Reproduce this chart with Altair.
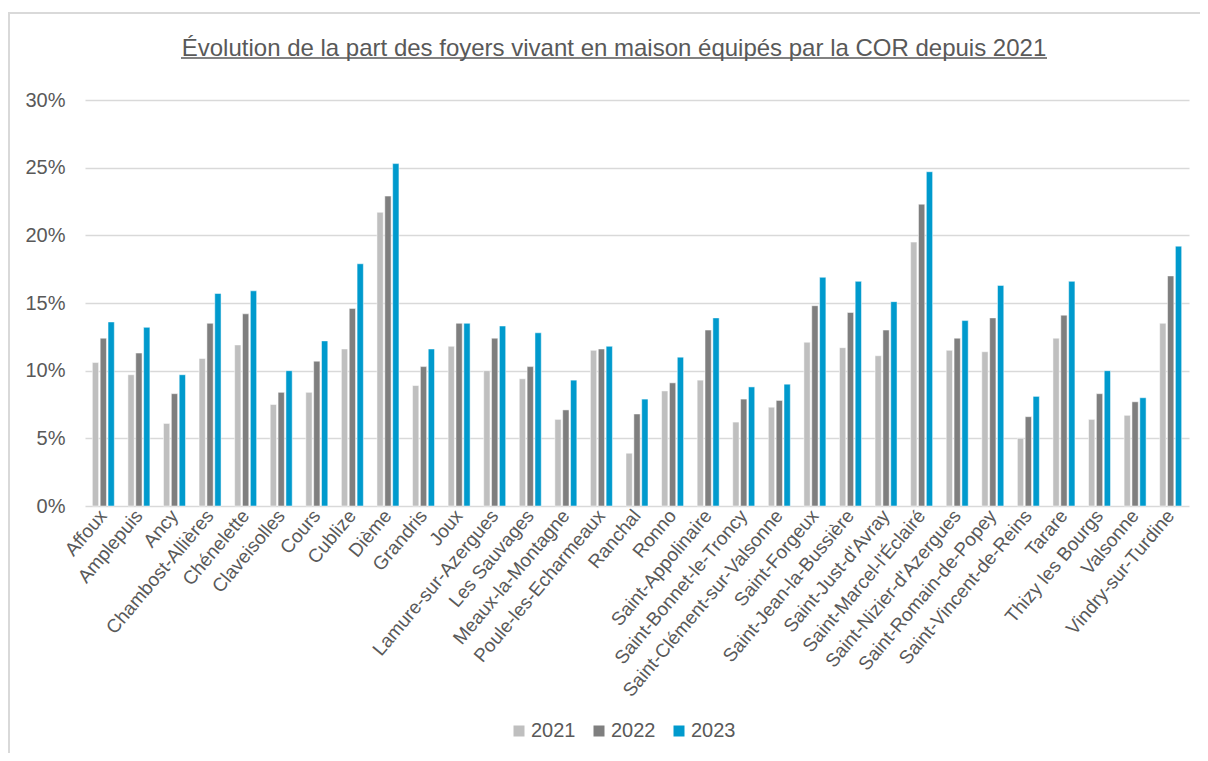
import altair as alt
import pandas as pd

communes = [
    "Affoux", "Amplepuis", "Ancy", "Chambost-Allières", "Chénelette", "Claveisolles",
    "Cours", "Cublize", "Dième", "Grandris", "Joux", "Lamure-sur-Azergues",
    "Les Sauvages", "Meaux-la-Montagne", "Poule-les-Echarmeaux", "Ranchal", "Ronno",
    "Saint-Appolinaire", "Saint-Bonnet-le-Troncy", "Saint-Clément-sur-Valsonne",
    "Saint-Forgeux", "Saint-Jean-la-Bussière", "Saint-Just-d'Avray",
    "Saint-Marcel-l'Éclairé", "Saint-Nizier-d'Azergues", "Saint-Romain-de-Popey",
    "Saint-Vincent-de-Reins", "Tarare", "Thizy les Bourgs", "Valsonne", "Vindry-sur-Turdine",
]
v2021 = [10.6, 9.7, 6.1, 10.9, 11.9, 7.5, 8.4, 11.6, 21.7, 8.9, 11.8, 10.0, 9.4, 6.4,
         11.5, 3.9, 8.5, 9.3, 6.2, 7.3, 12.1, 11.7, 11.1, 19.5, 11.5, 11.4, 5.0, 12.4,
         6.4, 6.7, 13.5]
v2022 = [12.4, 11.3, 8.3, 13.5, 14.2, 8.4, 10.7, 14.6, 22.9, 10.3, 13.5, 12.4, 10.3, 7.1,
         11.6, 6.8, 9.1, 13.0, 7.9, 7.8, 14.8, 14.3, 13.0, 22.3, 12.4, 13.9, 6.6, 14.1,
         8.3, 7.7, 17.0]
v2023 = [13.6, 13.2, 9.7, 15.7, 15.9, 10.0, 12.2, 17.9, 25.3, 11.6, 13.5, 13.3, 12.8, 9.3,
         11.8, 7.9, 11.0, 13.9, 8.8, 9.0, 16.9, 16.6, 15.1, 24.7, 13.7, 16.3, 8.1, 16.6,
         10.0, 8.0, 19.2]
years = ["2021", "2022", "2023"]
colors = ["#BFBFBF", "#7F7F7F", "#009ACD"]
y_ticks = [0, 0.05, 0.10, 0.15, 0.20, 0.25, 0.30]
title_text = "Évolution de la part des foyers vivant en maison équipés par la COR depuis 2021"

rows = []
for i, c in enumerate(communes):
    for yr, vals in zip(years, [v2021, v2022, v2023]):
        rows.append({"commune": c, "annee": yr, "part": vals[i] / 100})
df = pd.DataFrame(rows)

W, H = 1104, 406
FONT = "Liberation Sans"
GREY = "#595959"

bars = alt.Chart(df).mark_bar(stroke="white", strokeWidth=0.5).encode(
    x=alt.X(
        "commune:N", sort=communes, title=None,
        scale=alt.Scale(paddingInner=0.382, paddingOuter=0.206),
        axis=alt.Axis(labelAngle=-50, labelFontSize=19, labelColor=GREY, labelFont=FONT,
                      ticks=False, domain=False, labelPadding=6, labelOverlap=False,
                      labelLimit=0),
    ),
    xOffset=alt.XOffset("annee:N", sort=years,
                        scale=alt.Scale(paddingInner=0.2, paddingOuter=0)),
    y=alt.Y(
        "part:Q", title=None, scale=alt.Scale(domain=[0, 0.3], nice=False),
        axis=alt.Axis(format=".0%", values=y_ticks, labelFontSize=20, labelColor=GREY,
                      labelFont=FONT, ticks=False, domain=False, labelPadding=20,
                      gridColor="#D9D9D9", gridWidth=1.5),
    ),
    color=alt.Color(
        "annee:N", scale=alt.Scale(domain=years, range=colors),
        legend=alt.Legend(title=None, orient="none", legendX=424, legendY=621,
                          direction="horizontal", columns=3, symbolType="square",
                          symbolSize=121, symbolStrokeWidth=0, labelFontSize=20,
                          labelColor=GREY, labelFont=FONT, columnPadding=13,
                          labelOffset=2, padding=0),
    ),
)

title_df = pd.DataFrame({"t": [title_text]})
title = alt.Chart(title_df).mark_text(
    font=FONT, fontSize=24, color=GREY, align="center", baseline="alphabetic"
).encode(text="t:N", x=alt.value(529), y=alt.value(-44))

underline = alt.Chart(title_df).mark_rule(color=GREY, strokeWidth=1.3).encode(
    x=alt.value(96), x2=alt.value(962), y=alt.value(-42)
)

border_left = alt.Chart(title_df).mark_rule(color="#D9D9D9", strokeWidth=2).encode(
    x=alt.value(-76), y=alt.value(-88), y2=alt.value(660)
)
border_top = alt.Chart(title_df).mark_rule(color="#D9D9D9", strokeWidth=2).encode(
    x=alt.value(-77), x2=alt.value(1120), y=alt.value(-87)
)

chart = alt.layer(border_left, border_top, bars, title, underline).properties(
    width=W, height=H,
    autosize=alt.AutoSizeParams(type="none"),
    padding={"left": 77, "top": 92, "right": 11, "bottom": 247},
    background="white",
).configure_view(stroke=None)

chart.save("out.html", embed_options={"renderer": "svg", "actions": False})
